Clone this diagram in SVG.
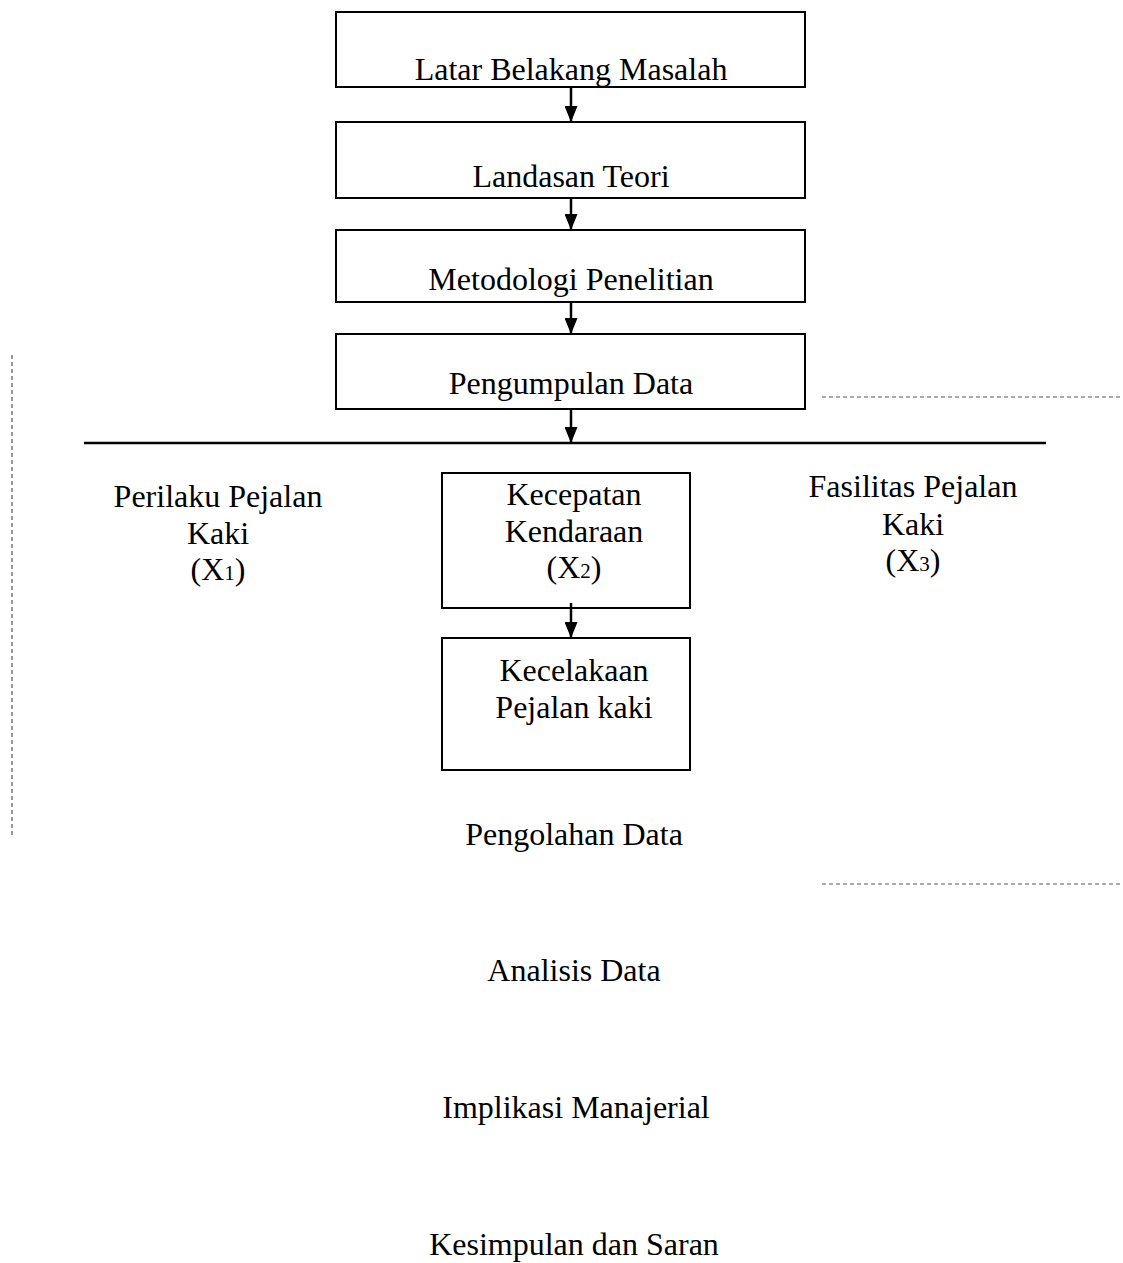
<svg xmlns="http://www.w3.org/2000/svg" width="1123" height="1263" viewBox="0 0 1123 1263">
  <style>
    .box { fill: #fff; stroke: #000; stroke-width: 2; }
    .lbl { font-family: "Liberation Serif", "Times New Roman", serif; font-size: 32px; fill: #000; text-anchor: middle; }
    .sub { font-size: 21px; }
    .conn { stroke: #000; stroke-width: 2.5; fill: none; }
    .rule { stroke: #000; stroke-width: 2.5; fill: none; }
    .dash { stroke: #555; stroke-width: 1.2; stroke-dasharray: 4 3; fill: none; }
  </style>
  <defs>
    <marker id="arrow" markerWidth="16" markerHeight="13" refX="15" refY="6.5" orient="auto" markerUnits="userSpaceOnUse">
      <path d="M0,0 L16,6.5 L0,13 Z" fill="#000"/>
    </marker>
  </defs>
  <rect width="1123" height="1263" fill="#fff"/>

  <g id="latar-belakang">
    <rect class="box" x="336" y="12" width="469" height="75"/>
    <text class="lbl" x="571" y="80">Latar Belakang Masalah</text>
  </g>
  <g id="landasan-teori">
    <rect class="box" x="336" y="122" width="469" height="76"/>
    <text class="lbl" x="571" y="187">Landasan Teori</text>
  </g>
  <g id="metodologi">
    <rect class="box" x="336" y="230" width="469" height="72"/>
    <text class="lbl" x="571" y="290">Metodologi Penelitian</text>
  </g>
  <g id="pengumpulan-data">
    <rect class="box" x="336" y="334" width="469" height="75"/>
    <text class="lbl" x="571" y="394">Pengumpulan Data</text>
  </g>

  <g id="perilaku">
    <text class="lbl" x="218" y="507">Perilaku Pejalan</text>
    <text class="lbl" x="218" y="544">Kaki</text>
    <text class="lbl" x="218" y="580">(X<tspan class="sub">1</tspan>)</text>
  </g>
  <g id="kecepatan">
    <rect class="box" x="442" y="473" width="248" height="135"/>
    <text class="lbl" x="574" y="505">Kecepatan</text>
    <text class="lbl" x="574" y="542">Kendaraan</text>
    <text class="lbl" x="574" y="578">(X<tspan class="sub">2</tspan>)</text>
  </g>
  <g id="fasilitas">
    <text class="lbl" x="913" y="497">Fasilitas Pejalan</text>
    <text class="lbl" x="913" y="535">Kaki</text>
    <text class="lbl" x="913" y="571">(X<tspan class="sub">3</tspan>)</text>
  </g>
  <g id="kecelakaan">
    <rect class="box" x="442" y="638" width="248" height="132"/>
    <text class="lbl" x="574" y="681">Kecelakaan</text>
    <text class="lbl" x="574" y="718">Pejalan kaki</text>
  </g>

  <g id="pengolahan">
    <text class="lbl" x="574" y="845">Pengolahan Data</text>
  </g>
  <g id="analisis">
    <text class="lbl" x="574" y="981">Analisis Data</text>
  </g>
  <g id="implikasi">
    <text class="lbl" x="576" y="1118">Implikasi Manajerial</text>
  </g>
  <g id="kesimpulan">
    <text class="lbl" x="574" y="1255">Kesimpulan dan Saran</text>
  </g>

  <g id="connectors">
    <line class="conn" x1="571" y1="87" x2="571" y2="121" marker-end="url(#arrow)"/>
    <line class="conn" x1="571" y1="198" x2="571" y2="229" marker-end="url(#arrow)"/>
    <line class="conn" x1="571" y1="302" x2="571" y2="333" marker-end="url(#arrow)"/>
    <line class="conn" x1="571" y1="408" x2="571" y2="442" marker-end="url(#arrow)"/>
    <line class="conn" x1="571" y1="603" x2="571" y2="637" marker-end="url(#arrow)"/>
    <line class="rule" x1="84" y1="443" x2="1046" y2="443"/>
    <line class="dash" x1="12" y1="355" x2="12" y2="838"/>
    <line class="dash" x1="822" y1="397" x2="1123" y2="397"/>
    <line class="dash" x1="822" y1="884" x2="1123" y2="884"/>
  </g>
</svg>
